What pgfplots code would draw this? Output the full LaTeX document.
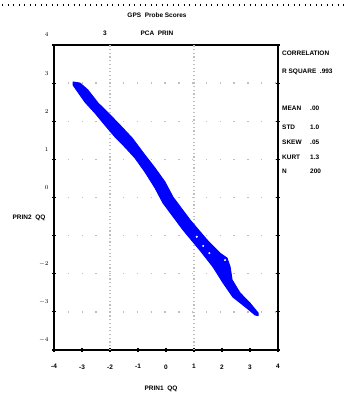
\documentclass[border=0pt]{standalone}
\usepackage{pgfplots}
\pgfplotsset{compat=1.18}
\usepackage{fontspec}
\setmainfont{Liberation Sans}
\newcommand{\tf}{\bfseries\fontsize{6.5}{7.5}\selectfont}

\begin{document}
\begin{tikzpicture}[x=1bp,y=1bp]
\path[use as bounding box] (0,0) rectangle (346,395);
% dotted rule across the top of the page
\draw[line width=1.1bp, dash pattern=on 1.1bp off 4.4bp] (2,390) -- (346,390);
% titles
\node[font=\tf] at (157,380) {GPS\ \ Probe Scores};
\node[font=\tf] at (105,362) {3};
\node[font=\tf, anchor=west] at (137,362) {PCA\ \ PRIN};
% statistics panel
\node[font=\tf, anchor=west, inner sep=0] at (282,342) {CORRELATION};
\node[font=\tf, anchor=west, inner sep=0] at (282,323) {R SQUARE\ \ .993};
\begin{scope}[every node/.style={font=\tf, anchor=west, inner sep=0}]
\node at (282,287) {MEAN}; \node at (310,287) {.00};
\node at (282,268) {STD};  \node at (310,268) {1.0};
\node at (282,253) {SKEW}; \node at (310,253) {.05};
\node at (282,238) {KURT}; \node at (310,238) {1.3};
\node at (282,224) {N};    \node at (310,224) {200};
\end{scope}
% axis labels
\node[font=\tf] at (29,177) {PRIN2\ \ QQ};
\node[font=\tf] at (161,6) {PRIN1\ \ QQ};

\begin{axis}[
  at={(54bp,45bp)}, anchor=south west,
  scale only axis, width=224bp, height=305bp,
  xmin=-4, xmax=4, ymin=-4, ymax=4,
  axis line style={line width=1.5bp},
  xtick={-4,...,4}, ytick={-4,...,3},
  yticklabels={$-4$,$-3$,$-2$,,$0$,$1$,$2$,$3$},
  extra y ticks={4}, extra y tick labels={$4$},
  extra y tick style={grid=none, yticklabel style={yshift=0bp}},
  xtick pos=lower, ytick pos=both,
  tick align=center, major tick length=4bp,
  tick style={line width=1.1bp, black},
  xticklabel style={font=\tf, yshift=-9bp},
  yticklabel style={font=\tf, yshift=10bp},
  /pgf/number format/assume math mode=true,
  ymajorgrids=true,
  major grid style={line width=1.3bp, dash pattern=on 1.3bp off 12.5bp},
  extra x ticks={-2,1}, extra x tick labels={},
  extra x tick style={grid=major, major tick length=0pt,
     major grid style={line width=1.2bp, dash pattern=on 1.2bp off 2.5bp}},
  clip=false,
]
% envelope of the scatter cloud: upper edge left to right, lower edge back
\addplot[fill=blue, draw=blue, line width=1bp, line join=round] coordinates {
 (-3.32,3.03) (-3.07,3.00) (-2.79,2.82) (-2.43,2.48) (-2.07,2.22)
 (-1.71,1.95) (-1.21,1.56) (-0.75,1.11) (-0.39,0.77) (-0.04,0.41)
 (0.25,0.01) (0.86,-0.59) (1.46,-1.11) (1.93,-1.46) (2.18,-1.59)
 (2.29,-1.82) (2.36,-2.16) (2.64,-2.50) (3.00,-2.77) (3.29,-3.03)
 (3.29,-3.10)
 (3.18,-3.08) (2.89,-2.90) (2.39,-2.61) (2.04,-2.24) (1.68,-1.82)
 (1.21,-1.38) (0.61,-0.85) (-0.11,-0.14) (-0.39,0.25) (-0.75,0.67)
 (-1.11,1.04) (-1.46,1.32) (-1.82,1.59) (-2.18,1.90) (-2.54,2.22)
 (-2.89,2.50) (-3.32,2.95)
} -- cycle;
% a few isolated gaps inside the cloud
\addplot[only marks, mark=*, mark size=0.8bp, white] coordinates {
 (1.10,-1.03) (1.33,-1.27) (1.55,-1.46) (2.11,-1.64)
};
\end{axis}
\end{tikzpicture}
\end{document}
